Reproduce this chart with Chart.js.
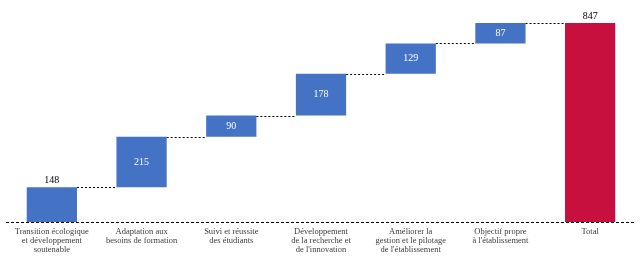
<!DOCTYPE html>
<html>
<head>
<meta charset="utf-8">
<script src="https://cdn.jsdelivr.net/npm/chart.js@4"></script>
<style>
html,body{margin:0;padding:0;background:#fff;}
#wrap{width:642px;height:263px;}
</style>
</head>
<body>
<div id="wrap"><canvas id="c" width="642" height="263"></canvas></div>
<script>
const categories = [
  ["Transition écologique", "et développement", "soutenable"],
  ["Adaptation aux", "besoins de formation"],
  ["Suivi et réussite", "des étudiants"],
  ["Développement", "de la recherche et", "de l'innovation"],
  ["Améliorer la", "gestion et le pilotage", "de l'établissement"],
  ["Objectif propre", "à l'établissement"],
  ["Total"]
];
const increments = [148, 215, 90, 178, 129, 87];
const totalValue = 847;

const ranges = [];
let run = 0;
for (const v of increments) { ranges.push([run, run + v]); run += v; }
ranges.push([0, totalValue]);
const labelsText = [...increments, totalValue];
const colors = [...increments.map(() => '#4472C4'), '#C8103F'];

const wfPlugin = {
  id: 'wf',
  afterDatasetsDraw(chart) {
    const ctx = chart.ctx;
    const meta = chart.getDatasetMeta(0);
    const y = chart.scales.y;
    const area = chart.chartArea;
    ctx.save();
    ctx.strokeStyle = '#000';
    ctx.lineWidth = 1;
    ctx.setLineDash([2, 2]);
    for (let i = 0; i < meta.data.length - 1; i++) {
      const b = meta.data[i], n = meta.data[i + 1];
      const yy = Math.round(y.getPixelForValue(ranges[i][1])) + 0.5;
      ctx.beginPath();
      ctx.moveTo(b.x + b.width / 2, yy);
      ctx.lineTo(n.x - n.width / 2, yy);
      ctx.stroke();
    }
    ctx.setLineDash([3, 2]);
    const by = Math.round(y.getPixelForValue(0)) + 0.5;
    ctx.beginPath();
    ctx.moveTo(area.left - 1, by);
    ctx.lineTo(area.right, by);
    ctx.stroke();
    ctx.restore();
    ctx.save();
    ctx.font = '10px "Liberation Serif"';
    ctx.textAlign = 'center';
    ctx.textBaseline = 'middle';
    meta.data.forEach((b, i) => {
      const top = y.getPixelForValue(ranges[i][1]);
      const bot = y.getPixelForValue(ranges[i][0]);
      if (i === 0 || i === meta.data.length - 1) {
        ctx.fillStyle = '#000';
        ctx.fillText(String(labelsText[i]), b.x, top - 7);
      } else {
        ctx.fillStyle = '#fff';
        ctx.fillText(String(labelsText[i]), b.x, (top + bot) / 2);
      }
    });
    ctx.restore();
  }
};

new Chart(document.getElementById('c'), {
  type: 'bar',
  data: {
    labels: categories,
    datasets: [{
      data: ranges,
      backgroundColor: colors,
      borderWidth: 0,
      barPercentage: 0.56,
      categoryPercentage: 1
    }]
  },
  options: {
    responsive: false,
    animation: false,
    devicePixelRatio: 1,
    layout: { padding: { top: 23, left: 7, right: 7, bottom: 0 } },
    plugins: { legend: { display: false }, tooltip: { enabled: false } },
    scales: {
      y: { display: false, min: 0, max: totalValue },
      x: {
        grid: { display: false },
        border: { display: false },
        ticks: {
          maxRotation: 0, autoSkip: false, padding: -3,
          color: '#404040',
          font: { family: '"Liberation Serif"', size: 8.5, lineHeight: 1.05 }
        },
        afterFit(scale) { scale.height = 41; }
      }
    }
  },
  plugins: [wfPlugin]
});
</script>
</body>
</html>
